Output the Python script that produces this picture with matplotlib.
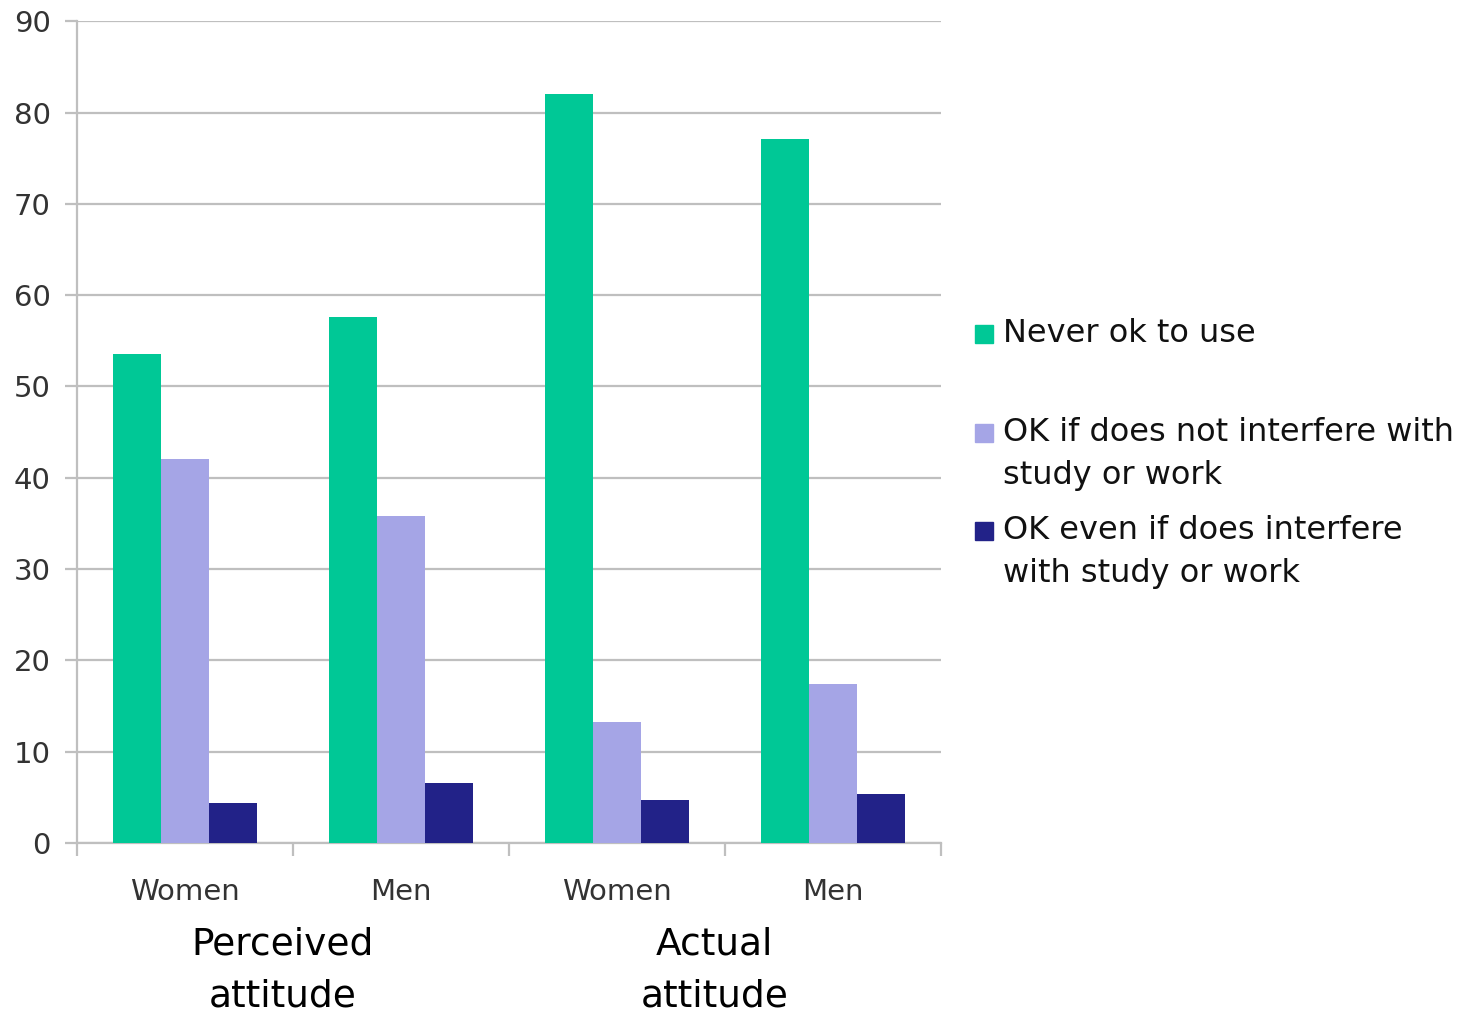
import matplotlib.pyplot as plt
import numpy as np
from matplotlib.patches import Rectangle

plt.rcParams['font.family'] = ['DejaVu Sans']

categories = ["Women", "Men", "Women", "Men"]
groups = ["Perceived\nattitude", "Actual\nattitude"]
series = ["Never ok to use",
          "OK if does not interfere with\nstudy or work",
          "OK even if does interfere\nwith study or work"]
never_ok = [53.5, 57.6, 82.0, 77.1]
ok_no_interfere = [42.0, 35.8, 13.2, 17.4]
ok_interfere = [4.4, 6.5, 4.7, 5.4]
colors = ["#00C896", "#A5A5E6", "#222288"]

fig = plt.figure(figsize=(14.72, 10.13), dpi=100)
ax = fig.add_axes([0.0523, 0.168, 0.587, 0.811])

x = np.arange(len(categories))
width = 0.222
values = [never_ok, ok_no_interfere, ok_interfere]
for i, (vals, col) in enumerate(zip(values, colors)):
    ax.bar(x + (i - 1) * width, vals, width, color=col, zorder=3)

ax.set_xlim(-0.5, 3.5)
ax.set_ylim(0, 90)
ax.set_yticks(range(0, 91, 10))
ax.yaxis.grid(True, color="#BFBFBF", linewidth=1.6, zorder=0)
ax.set_axisbelow(True)

ax.set_xticks(np.arange(-0.5, 4.0, 1.0))
ax.set_xticklabels([])
ax.set_xticks(x, minor=True)
ax.set_xticklabels(categories, minor=True)
ax.tick_params(axis="x", which="minor", length=0, pad=25, labelsize=21,
               labelcolor="#333333")
ax.tick_params(axis="x", which="major", length=9, width=1.6, color="#BFBFBF",
               direction="out")
ax.tick_params(axis="y", length=9, width=1.6, color="#BFBFBF", pad=10,
               labelsize=21, labelcolor="#333333")

for side in ["top", "right"]:
    ax.spines[side].set_visible(False)
for side in ["left", "bottom"]:
    ax.spines[side].set_color("#BFBFBF")
    ax.spines[side].set_linewidth(1.6)

# group labels under the category labels
for gx, label in zip([0.5, 2.5], groups):
    ax.text(gx - 0.05, -9.2, label, ha="center", va="top", fontsize=27,
            linespacing=1.55, transform=ax.transData)

# legend drawn by hand to keep uneven spacing
W, H = 1472.0, 1013.0
legend_y = [333, 454, 552]
for label, col, yc in zip(series, colors, legend_y):
    n = label.count("\n") + 1
    top_line = yc - (n - 1) * 22
    fig.patches.append(Rectangle((975 / W, 1 - (top_line + 10) / H), 18 / W, 18 / H,
                                 transform=fig.transFigure, color=col))
    fig.text(1003 / W, 1 - yc / H, label, ha="left", va="center", fontsize=23,
             linespacing=1.5, color="#111111")

fig.savefig("out.png", dpi=100)
